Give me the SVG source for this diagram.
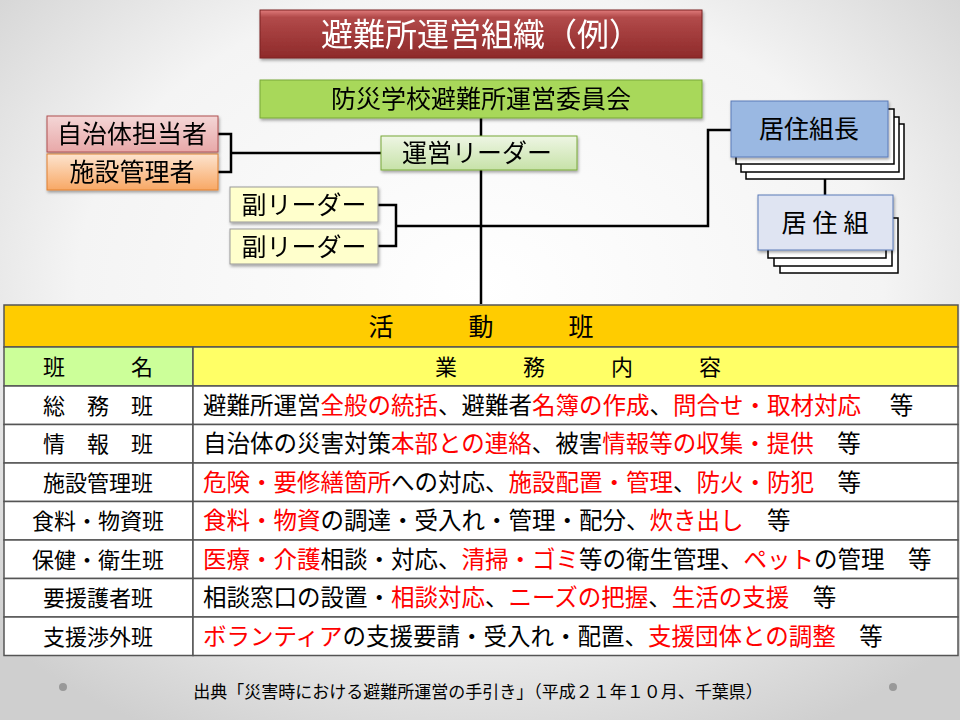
<svg xmlns="http://www.w3.org/2000/svg" width="960" height="720" viewBox="0 0 960 720">
<defs>
<radialGradient id="bg" cx="50%" cy="40%" r="70%"><stop offset="0" stop-color="#ffffff"/><stop offset="0.6" stop-color="#f4f4f4"/><stop offset="1" stop-color="#cfcfcf"/></radialGradient>
<linearGradient id="gT" x1="0" y1="0" x2="0" y2="1"><stop offset="0" stop-color="#e07b7b"/><stop offset="0.15" stop-color="#b24a4a"/><stop offset="1" stop-color="#8e2a2a"/></linearGradient>
<linearGradient id="gA" x1="0" y1="0" x2="0" y2="1"><stop offset="0" stop-color="#f4d6d6"/><stop offset="1" stop-color="#e8a8a8"/></linearGradient>
<linearGradient id="gB" x1="0" y1="0" x2="0" y2="1"><stop offset="0" stop-color="#fde4cf"/><stop offset="1" stop-color="#f8a865"/></linearGradient>
<linearGradient id="gL" x1="0" y1="0" x2="0" y2="1"><stop offset="0" stop-color="#eef6e4"/><stop offset="1" stop-color="#c7e2a8"/></linearGradient>
<filter id="sh" x="-10%" y="-10%" width="130%" height="140%"><feDropShadow dx="1" dy="2" stdDeviation="1.5" flood-opacity="0.35"/></filter>
</defs>
<style>
text{font-family:"Noto Sans CJK JP","Noto Sans",sans-serif;fill:#000}
.ln{stroke:#000;stroke-width:2.5;fill:none}
.st{fill:#fff;stroke:#000;stroke-width:1.5}
.r{fill:#f00}
.cell{fill:#fff;stroke:#555;stroke-width:1.5}
.t{font-size:23.5px}
.n{font-size:22px}
</style>
<rect width="960" height="720" fill="url(#bg)"/>
<g id="connectors">
<path class="ln" d="M481 118V304"/>
<path class="ln" d="M218 134H231V172H218M231 153H381"/>
<path class="ln" d="M378 205H396V246H378M396 226H708V130H731"/>
<path class="ln" d="M825 178V195"/>
</g>
<g id="title" filter="url(#sh)"><rect x="260" y="10" width="442" height="48" fill="url(#gT)" stroke="#7a2020"/><text x="481" y="46" font-size="32" style="fill:#fff" text-anchor="middle">避難所運営組織（例）</text></g>
<g id="committee" filter="url(#sh)"><rect x="260" y="80" width="442" height="38" fill="#a8d85a" stroke="#78a838"/><text x="481" y="108" font-size="25" text-anchor="middle">防災学校避難所運営委員会</text></g>
<g id="leader" filter="url(#sh)"><rect x="381" y="136" width="196" height="34" fill="url(#gL)" stroke="#78a838"/><text x="477" y="162" font-size="25" text-anchor="middle">運営リーダー</text></g>
<g id="jichitai" filter="url(#sh)"><rect x="47" y="116" width="171" height="36" fill="url(#gA)" stroke="#b05050"/><text x="132" y="143" font-size="25" text-anchor="middle">自治体担当者</text></g>
<g id="shisetsu" filter="url(#sh)"><rect x="47" y="154" width="171" height="36" fill="url(#gB)" stroke="#e08030"/><text x="132" y="181" font-size="25" text-anchor="middle">施設管理者</text></g>
<g id="sub1" filter="url(#sh)"><rect x="230" y="187" width="148" height="35" fill="#ffffcc" stroke="#999"/><text x="304" y="214" font-size="25" text-anchor="middle">副リーダー</text></g>
<g id="sub2" filter="url(#sh)"><rect x="230" y="229" width="148" height="35" fill="#ffffcc" stroke="#999"/><text x="304" y="256" font-size="25" text-anchor="middle">副リーダー</text></g>
<g id="kumicho">
<rect class="st" x="746" y="124" width="158" height="55"/><rect class="st" x="741" y="117" width="158" height="55"/><rect class="st" x="736" y="109" width="158" height="55"/>
<rect x="731" y="101" width="157" height="56" fill="#9ab8e2" stroke="#5a7ab8" filter="url(#sh)"/><text x="809" y="138" font-size="25" text-anchor="middle">居住組長</text></g>
<g id="kumi">
<rect class="st" x="780" y="218" width="118" height="55"/><rect class="st" x="774" y="211" width="118" height="55"/><rect class="st" x="768" y="203" width="118" height="55"/>
<rect x="758" y="195" width="135" height="55" fill="#dfe4f2" stroke="#5a7ab8" filter="url(#sh)"/><text x="828" y="232" font-size="25" text-anchor="middle" letter-spacing="6">居住組</text></g>
<g id="table">
<rect x="4" y="305" width="954" height="42" fill="#ffcc00" stroke="#555" stroke-width="1.5"/>
<text x="481" y="336" font-size="25" text-anchor="middle" xml:space="preserve">活　　　動　　　班</text>
<rect x="4" y="347" width="189" height="39" fill="#ccff99" stroke="#555" stroke-width="1.5"/>
<rect x="193" y="347" width="765" height="39" fill="#ffff66" stroke="#555" stroke-width="1.5"/>
<text x="98" y="375" class="n" text-anchor="middle" xml:space="preserve">班　　　名</text>
<text x="578" y="375" class="n" text-anchor="middle" xml:space="preserve">業　　　務　　　内　　　容</text>
<rect class="cell" x="4" y="386" width="189" height="38.5"/><rect class="cell" x="193" y="386" width="765" height="38.5"/>
<rect class="cell" x="4" y="424.5" width="189" height="38.5"/><rect class="cell" x="193" y="424.5" width="765" height="38.5"/>
<rect class="cell" x="4" y="463" width="189" height="38.5"/><rect class="cell" x="193" y="463" width="765" height="38.5"/>
<rect class="cell" x="4" y="501.5" width="189" height="38.5"/><rect class="cell" x="193" y="501.5" width="765" height="38.5"/>
<rect class="cell" x="4" y="540" width="189" height="38.5"/><rect class="cell" x="193" y="540" width="765" height="38.5"/>
<rect class="cell" x="4" y="578.5" width="189" height="38.5"/><rect class="cell" x="193" y="578.5" width="765" height="38.5"/>
<rect class="cell" x="4" y="617" width="189" height="38.5"/><rect class="cell" x="193" y="617" width="765" height="38.5"/>
<g text-anchor="middle">
<text x="98" y="414" class="n" xml:space="preserve">総　務　班</text>
<text x="98" y="452" class="n" xml:space="preserve">情　報　班</text>
<text x="98" y="491" class="n">施設管理班</text>
<text x="98" y="529" class="n">食料・物資班</text>
<text x="98" y="568" class="n">保健・衛生班</text>
<text x="98" y="606" class="n">要援護者班</text>
<text x="98" y="645" class="n">支援渉外班</text>
</g>
<text x="203" y="414" class="t" xml:space="preserve">避難所運営<tspan class="r">全般の統括</tspan>、避難者<tspan class="r">名簿の作成</tspan>、<tspan class="r">問合せ・取材対応</tspan>　 等</text>
<text x="203" y="452" class="t" xml:space="preserve">自治体の災害対策<tspan class="r">本部との連絡</tspan>、被害<tspan class="r">情報等の収集・提供</tspan>　等</text>
<text x="203" y="491" class="t" xml:space="preserve"><tspan class="r">危険・要修繕箇所</tspan>への対応、<tspan class="r">施設配置・管理</tspan>、<tspan class="r">防火・防犯</tspan>　等</text>
<text x="203" y="529" class="t" xml:space="preserve"><tspan class="r">食料・物資</tspan>の調達・受入れ・管理・配分、<tspan class="r">炊き出し</tspan>　等</text>
<text x="203" y="568" class="t" xml:space="preserve"><tspan class="r">医療・介護</tspan>相談・対応、<tspan class="r">清掃・ゴミ</tspan>等の衛生管理、<tspan class="r">ペット</tspan>の管理　等</text>
<text x="203" y="606" class="t" xml:space="preserve">相談窓口の設置・<tspan class="r">相談対応</tspan>、<tspan class="r">ニーズの把握</tspan>、<tspan class="r">生活の支援</tspan>　等</text>
<text x="203" y="645" class="t" xml:space="preserve"><tspan class="r">ボランティア</tspan>の支援要請・受入れ・配置、<tspan class="r">支援団体との調整</tspan>　等</text>
</g>
<circle cx="63" cy="687" r="4" fill="#999"/><circle cx="893" cy="687" r="4" fill="#999"/>
<text x="478" y="698" font-size="17" text-anchor="middle">出典「災害時における避難所運営の手引き」（平成２１年１０月、千葉県）</text>
</svg>
